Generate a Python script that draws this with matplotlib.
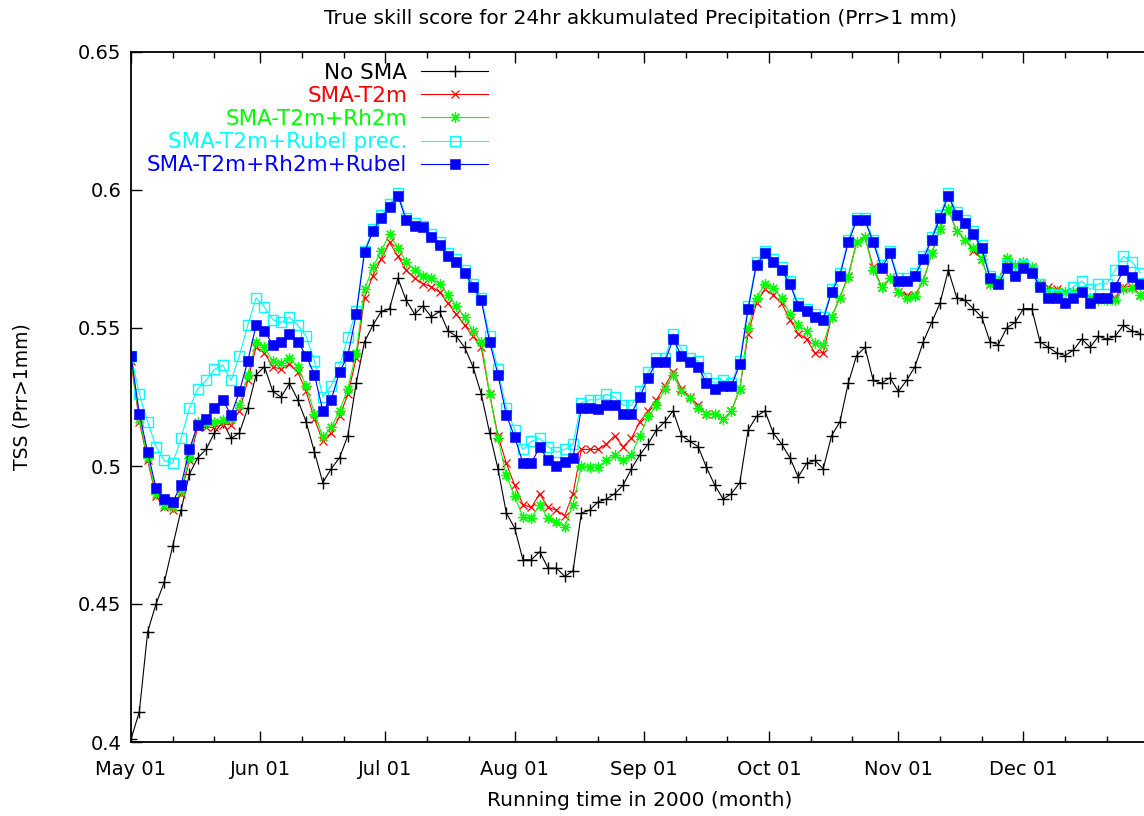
import numpy as np
import pandas as pd
import matplotlib
matplotlib.use("Agg")
import matplotlib.pyplot as plt
import matplotlib.dates as mdates
from matplotlib.ticker import FuncFormatter, MultipleLocator

plt.rcParams["font.family"] = ["DejaVu Sans"]

# TSS values every second day, starting 2000-05-01
no_sma = [
    0.401, 0.411, 0.440, 0.450, 0.458, 0.471, 0.484, 0.497, 0.503, 0.506,
    0.512, 0.516, 0.510, 0.512, 0.521, 0.533, 0.536, 0.527, 0.525, 0.530,
    0.524, 0.516, 0.505, 0.494, 0.499, 0.503, 0.511, 0.530, 0.545, 0.551,
    0.556, 0.557, 0.568, 0.560, 0.555, 0.558, 0.554, 0.556, 0.549, 0.547,
    0.543, 0.536, 0.526, 0.512, 0.499, 0.483, 0.4775, 0.466, 0.466, 0.469,
    0.463, 0.463, 0.460, 0.462, 0.483, 0.484, 0.487, 0.488, 0.490, 0.493,
    0.499, 0.504, 0.508, 0.513, 0.516, 0.520, 0.511, 0.509, 0.507, 0.4995,
    0.493, 0.488, 0.490, 0.494, 0.513, 0.518, 0.520, 0.512, 0.508, 0.503,
    0.496, 0.501, 0.502, 0.499, 0.511, 0.516, 0.530, 0.540, 0.543, 0.531,
    0.530, 0.532, 0.527, 0.531, 0.536, 0.545, 0.552, 0.559, 0.571, 0.561,
    0.560, 0.557, 0.554, 0.545, 0.544, 0.550, 0.552, 0.557, 0.557, 0.545,
    0.543, 0.541, 0.540, 0.542, 0.546, 0.543, 0.547, 0.546, 0.547, 0.551,
    0.549, 0.548,
]
sma_t2m = [
    0.538, 0.516, 0.502, 0.489, 0.485, 0.484, 0.490, 0.502, 0.514, 0.514,
    0.514, 0.515, 0.515, 0.520, 0.531, 0.543, 0.541, 0.536, 0.535, 0.537,
    0.534, 0.527, 0.517, 0.509, 0.512, 0.518, 0.526, 0.539, 0.561, 0.569,
    0.575, 0.581, 0.576, 0.571, 0.568, 0.566, 0.565, 0.563, 0.559, 0.555,
    0.551, 0.547, 0.543, 0.526, 0.511, 0.501, 0.493, 0.486, 0.485, 0.490,
    0.485, 0.484, 0.482, 0.490, 0.506, 0.506, 0.506, 0.508, 0.511, 0.507,
    0.510, 0.516, 0.520, 0.524, 0.529, 0.534, 0.528, 0.525, 0.522, 0.519,
    0.519, 0.517, 0.520, 0.528, 0.548, 0.559, 0.564, 0.562, 0.559, 0.553,
    0.548, 0.546, 0.541, 0.541, 0.554, 0.561, 0.569, 0.581, 0.583, 0.572,
    0.565, 0.568, 0.563, 0.562, 0.562, 0.567, 0.577, 0.586, 0.593, 0.585,
    0.582, 0.578, 0.575, 0.566, 0.567, 0.575, 0.573, 0.574, 0.572, 0.566,
    0.565, 0.564, 0.563, 0.563, 0.564, 0.561, 0.561, 0.561, 0.561, 0.565,
    0.565, 0.562,
]
sma_t2m_rh2m = [
    0.539, 0.517, 0.503, 0.490, 0.486, 0.485, 0.491, 0.503, 0.516, 0.5156,
    0.516, 0.5167, 0.517, 0.522, 0.533, 0.545, 0.543, 0.538, 0.5373, 0.539,
    0.536, 0.529, 0.519, 0.5105, 0.514, 0.520, 0.528, 0.541, 0.564, 0.572,
    0.578, 0.584, 0.579, 0.574, 0.571, 0.569, 0.568, 0.566, 0.562, 0.558,
    0.554, 0.549, 0.545, 0.526, 0.510, 0.4967, 0.489, 0.4815, 0.481, 0.486,
    0.481, 0.4797, 0.478, 0.486, 0.500, 0.4996, 0.4995, 0.502, 0.504, 0.502,
    0.504, 0.511, 0.518, 0.522, 0.528, 0.533, 0.527, 0.5245, 0.521, 0.519,
    0.519, 0.517, 0.520, 0.528, 0.550, 0.561, 0.566, 0.5645, 0.561, 0.555,
    0.551, 0.549, 0.5446, 0.544, 0.554, 0.561, 0.5685, 0.581, 0.583, 0.571,
    0.565, 0.568, 0.563, 0.561, 0.5615, 0.567, 0.577, 0.586, 0.593, 0.585,
    0.582, 0.579, 0.575, 0.566, 0.567, 0.5755, 0.573, 0.574, 0.572, 0.566,
    0.5635, 0.5635, 0.563, 0.563, 0.563, 0.561, 0.560, 0.560, 0.560, 0.564,
    0.5645, 0.562,
]
sma_t2m_rubel = [
    0.540, 0.526, 0.516, 0.507, 0.502, 0.501, 0.510, 0.521, 0.528, 0.531,
    0.535, 0.5366, 0.531, 0.540, 0.551, 0.561, 0.5576, 0.553, 0.552, 0.554,
    0.551, 0.547, 0.538, 0.525, 0.529, 0.536, 0.5467, 0.556, 0.578, 0.586,
    0.591, 0.595, 0.599, 0.590, 0.588, 0.587, 0.584, 0.581, 0.577, 0.575,
    0.571, 0.566, 0.561, 0.547, 0.535, 0.521, 0.513, 0.506, 0.509, 0.510,
    0.507, 0.505, 0.506, 0.508, 0.523, 0.524, 0.524, 0.526, 0.525, 0.522,
    0.522, 0.527, 0.534, 0.539, 0.539, 0.548, 0.542, 0.539, 0.538, 0.532,
    0.530, 0.531, 0.530, 0.538, 0.558, 0.574, 0.578, 0.575, 0.572, 0.567,
    0.559, 0.557, 0.555, 0.554, 0.564, 0.570, 0.582, 0.590, 0.590, 0.582,
    0.573, 0.578, 0.568, 0.568, 0.570, 0.576, 0.583, 0.591, 0.599, 0.592,
    0.589, 0.585, 0.580, 0.569, 0.567, 0.573, 0.570, 0.573, 0.571, 0.566,
    0.562, 0.562, 0.561, 0.565, 0.567, 0.564, 0.566, 0.566, 0.571, 0.576,
    0.574, 0.570,
]
sma_all = [
    0.540, 0.519, 0.505, 0.492, 0.488, 0.487, 0.493, 0.506, 0.515, 0.517,
    0.521, 0.524, 0.5185, 0.527, 0.538, 0.551, 0.549, 0.544, 0.545, 0.548,
    0.545, 0.540, 0.533, 0.520, 0.524, 0.534, 0.540, 0.555, 0.5775, 0.585,
    0.590, 0.594, 0.598, 0.589, 0.587, 0.5866, 0.583, 0.580, 0.576, 0.574,
    0.570, 0.565, 0.560, 0.545, 0.533, 0.5185, 0.5105, 0.501, 0.501, 0.507,
    0.502, 0.500, 0.5014, 0.503, 0.521, 0.521, 0.5205, 0.522, 0.522, 0.519,
    0.519, 0.525, 0.532, 0.5377, 0.5377, 0.546, 0.540, 0.5377, 0.536, 0.530,
    0.528, 0.529, 0.529, 0.537, 0.557, 0.573, 0.577, 0.574, 0.571, 0.566,
    0.558, 0.556, 0.554, 0.553, 0.563, 0.569, 0.581, 0.589, 0.589, 0.581,
    0.5717, 0.577, 0.567, 0.567, 0.569, 0.575, 0.582, 0.590, 0.598, 0.591,
    0.588, 0.584, 0.579, 0.568, 0.566, 0.5717, 0.569, 0.5717, 0.570, 0.565,
    0.561, 0.561, 0.559, 0.561, 0.563, 0.559, 0.561, 0.561, 0.565, 0.571,
    0.5685, 0.566,
]

dates = pd.date_range("2000-05-01", periods=len(no_sma), freq="2D")

fig = plt.figure(figsize=(11.44, 8.16), dpi=100)
# x axis runs a little past the right edge of the picture
ax = fig.add_axes([131 / 1144, 74 / 816, 1017.5 / 1144, 690 / 816])

ax.plot(dates, no_sma, color="black", lw=0.8, marker="+", ms=8.5, mew=1.0,
        label="No SMA")
ax.plot(dates, sma_t2m, color="red", lw=0.8, marker="x", ms=5.5, mew=0.9,
        label="SMA-T2m")
ax.plot(dates, sma_t2m_rh2m, color="#00ff00", lw=0.8, marker=(8, 2, 0),
        ms=7.5, mew=0.9, label="SMA-T2m+Rh2m")
ax.plot(dates, sma_t2m_rubel, color="cyan", lw=0.8, marker="s", ms=7.3,
        mfc="none", mew=1.0, label="SMA-T2m+Rubel prec.")
ax.plot(dates, sma_all, color="blue", lw=0.8, marker="s", ms=7.8, mew=0.4,
        label="SMA-T2m+Rh2m+Rubel")

ax.set_xlim(pd.Timestamp("2000-05-01"), pd.Timestamp("2000-12-31"))
ax.set_ylim(0.4, 0.65)
ax.xaxis.set_major_locator(mdates.MonthLocator())
ax.xaxis.set_major_formatter(mdates.DateFormatter("%b %d"))
ax.xaxis.set_minor_locator(mdates.DayLocator(bymonthday=[11, 21]))
ax.yaxis.set_major_locator(MultipleLocator(0.05))
ax.yaxis.set_major_formatter(FuncFormatter(lambda v, p: "%g" % round(v, 3)))

ax.tick_params(which="both", direction="in", top=True, right=False,
               labelsize=14, width=1)
ax.tick_params(which="major", length=8)
ax.tick_params(which="minor", length=4.5)
ax.tick_params(axis="x", which="major", pad=13)
ax.tick_params(axis="y", which="major", pad=7)
for s in ax.spines.values():
    s.set_linewidth(1.3)

ax.legend(loc="upper right", bbox_to_anchor=(488 / 1144, 1 - 63 / 816),
          bbox_transform=fig.transFigure, frameon=False, markerfirst=False,
          labelcolor="linecolor", handlelength=3.1, handletextpad=0.65,
          labelspacing=0.14, borderpad=0, borderaxespad=0, numpoints=1,
          fontsize=15.5)

fig.text(640 / 1144, 1 - 18 / 816,
         "True skill score for 24hr akkumulated Precipitation (Prr>1 mm)",
         ha="center", va="center", fontsize=14.5)
fig.text(640 / 1144, 1 - 801 / 816, "Running time in 2000 (month)",
         ha="center", va="center", fontsize=14.5)
fig.text(22 / 1144, 1 - 397 / 816, "TSS (Prr>1mm)", rotation=90,
         ha="center", va="center", fontsize=13.5)

fig.savefig("out.png", dpi=100)
